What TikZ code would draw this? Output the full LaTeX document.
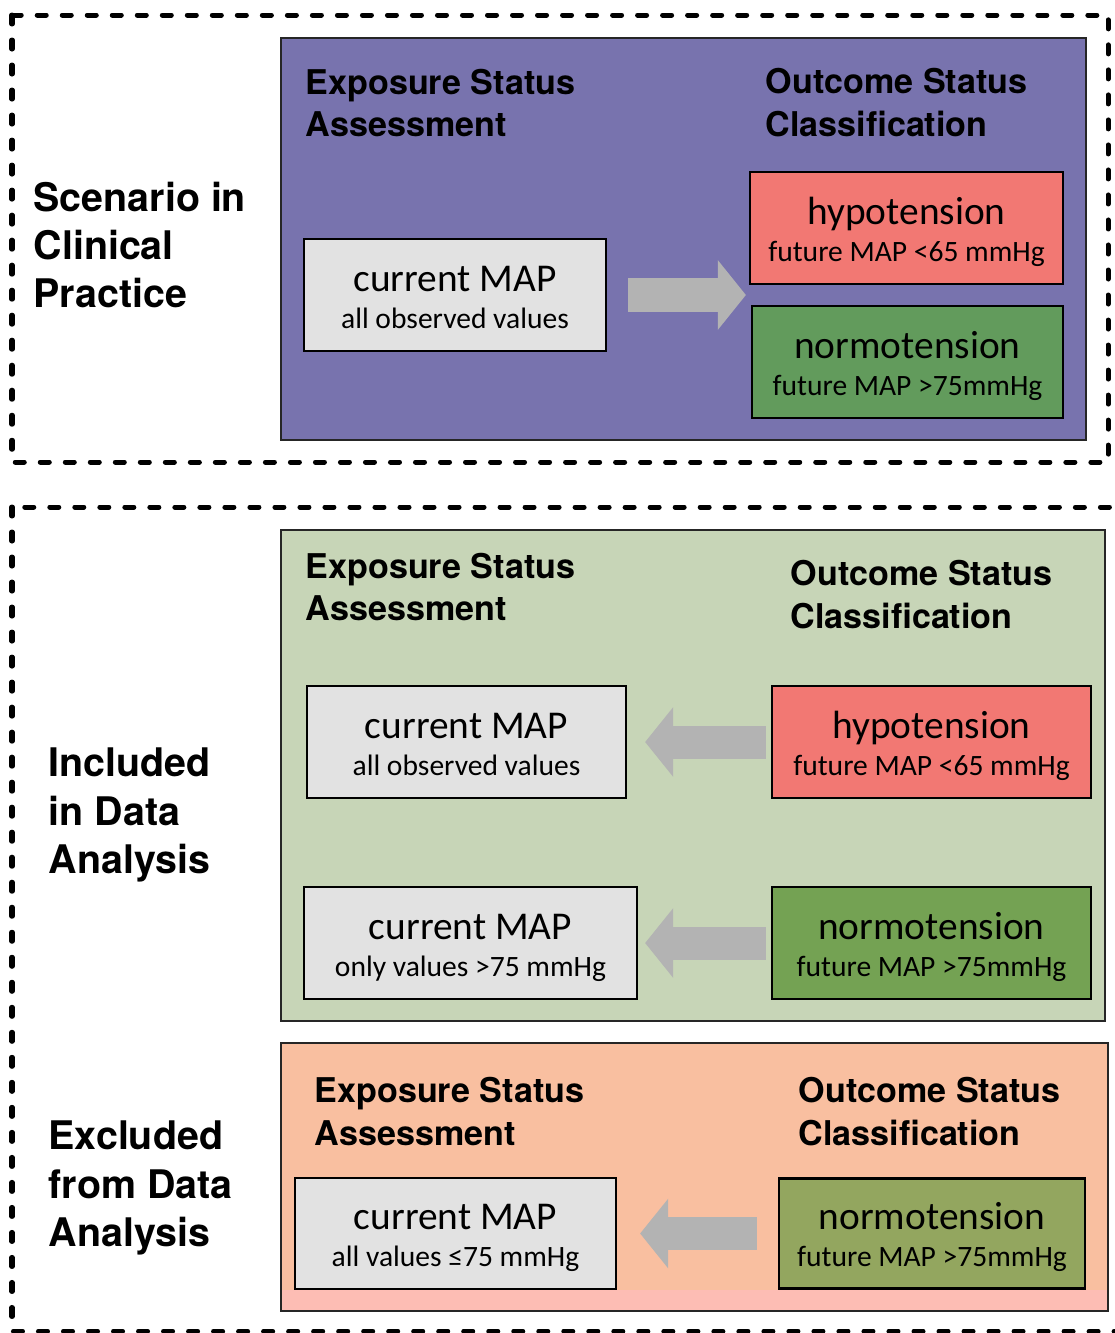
\documentclass[tikz,border=0pt]{standalone}
\usepackage{fontspec}
\setmainfont{Carlito}
\newfontfamily\headfont{TeX Gyre Heros}
\usetikzlibrary{calc}
\usetikzlibrary{arrows.meta}
\tikzset{>={Latex[width=1.5mm,length=1.5mm]}}
\usepackage{color}

\definecolor{clinpurple}{HTML}{7873AE}
\definecolor{inclgreen}{HTML}{C7D5B7}
\definecolor{exclpeach}{HTML}{F9BFA0}
\definecolor{exclstrip}{HTML}{FDBDB4}
\definecolor{mapgray}{HTML}{E2E2E2}
\definecolor{hypored}{HTML}{F27873}
\definecolor{normgreen}{HTML}{629B5C}
\definecolor{normgreenb}{HTML}{74A253}
\definecolor{normolive}{HTML}{93A65F}
\definecolor{fatgray}{HTML}{B3B3B3}

\newcommand{\maptext}[2]{{\fontsize{11.2}{12}\selectfont\rule{0pt}{10.6pt}#1}\\#2\rule[-2.2pt]{0pt}{2.2pt}}

\begin{document}
\begin{tikzpicture}[
    x = 0.01cm, y = -0.01cm,
    frame/.style = {draw, line width=0.05cm, dash pattern=on 0.09cm off 0.16cm,
        line cap=round},
    panel/.style = {draw=black!85, line width=0.6pt, inner sep=0pt, outer sep=0pt},
    mapbox/.style = {draw, line width=0.7pt, align=center, inner sep=0pt,
        outer sep=0pt, minimum height=1.12cm,
        font=\fontsize{8.4}{10.6}\selectfont},
    heading/.style = {font=\headfont\bfseries\fontsize{9.7}{12.2}\selectfont,
        align=left, anchor=west, inner sep=0pt},
    side/.style = {font=\headfont\bfseries\fontsize{11.2}{13.7}\selectfont,
        align=left, anchor=west, inner sep=0pt},
    fat/.style = {draw=fatgray, line width=0.33cm,
        -{Triangle[length=0.28cm,width=0.68cm]}}
  ]
  \useasboundingbox (0,0) rectangle (1115,1333);

  \draw[frame] (12,15) rectangle (1108,462);
  \draw[frame] (12,507) rectangle (1125,1331);

  \node[side] (sc) at (33,245) {Scenario in\\Clinical\\Practice};
  \node[side] (in) at (48,815) {Included\\in Data\\Analysis};
  \node[side] (ex) at (48,1188) {Excluded\\from Data\\Analysis};

  % clinical practice
  \node[panel, fill=clinpurple, minimum width=8.05cm, minimum height=4.02cm] (clin) at (683.5,239) {};
  \node[heading] (clinexp) at (305,103) {Exposure Status\\Assessment};
  \node[heading] (clinout) at (765,103) {Outcome Status\\Classification};
  \node[mapbox, fill=mapgray, minimum width=3.02cm] (cur1) at (455,295) {\maptext{current MAP}{all observed values}};
  \node[mapbox, fill=hypored, minimum width=3.13cm] (hypo1) at (906.5,228) {\maptext{hypotension}{future MAP <65 mmHg}};
  \node[mapbox, fill=normgreen, minimum width=3.11cm] (normo1) at (907.5,362) {\maptext{normotension}{future MAP >75mmHg}};
  \coordinate (split) at ($(hypo1.south west)!0.5!(normo1.north west)$);
  \draw[fat, shorten <=0.22cm, shorten >=0.05cm] (cur1.east) -- (cur1.east -| split);

  % included
  \node[panel, fill=inclgreen, minimum width=8.24cm, minimum height=4.91cm] (incl) at (693,775.5) {};
  \node[heading] (inclexp) at (305,587) {Exposure Status\\Assessment};
  \node[heading] (inclout) at (790,594.5) {Outcome Status\\Classification};
  \node[mapbox, fill=mapgray, minimum width=3.19cm] (cur2) at (466.5,742) {\maptext{current MAP}{all observed values}};
  \node[mapbox, fill=hypored, minimum width=3.19cm] (hypo2) at (931.5,742) {\maptext{hypotension}{future MAP <65 mmHg}};
  \node[mapbox, fill=mapgray, minimum width=3.33cm] (cur3) at (470.5,943) {\maptext{current MAP}{only values >75 mmHg}};
  \node[mapbox, fill=normgreenb, minimum width=3.19cm] (normo2) at (931.5,943) {\maptext{normotension}{future MAP >75mmHg}};

  % excluded
  \node[panel, fill=exclpeach, minimum width=8.27cm, minimum height=2.68cm] (excl) at (694.5,1177) {};
  \fill[exclstrip] ($(excl.south west)+(1,-1)$) rectangle ($(excl.south east)+(-1,-21)$);
  \node[heading] (exclexp) at (314,1111.5) {Exposure Status\\Assessment};
  \node[heading] (exclout) at (798,1111.5) {Outcome Status\\Classification};
  \node[mapbox, fill=mapgray, minimum width=3.21cm, minimum height=1.11cm] (cur4) at (455.5,1233.5) {\maptext{current MAP}{all values ≤75 mmHg}};
  \node[mapbox, fill=normolive, minimum width=3.06cm, minimum height=1.10cm] (normo3) at (932,1233.5) {\maptext{normotension}{future MAP >75mmHg}};

  \foreach \a/\b/\s/\t in {hypo2/cur2/0.06cm/0.19cm, normo2/cur3/0.06cm/0.08cm, normo3/cur4/0.22cm/0.24cm}
    \draw[fat, shorten <=\s, shorten >=\t] (\a.west) -- (\b.east);
\end{tikzpicture}
\end{document}
